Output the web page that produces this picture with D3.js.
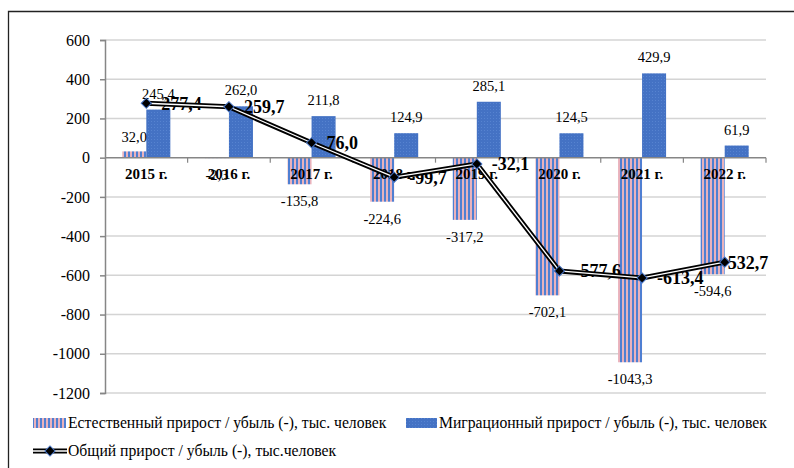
<!DOCTYPE html>
<html><head><meta charset="utf-8">
<script src="https://cdn.jsdelivr.net/npm/d3@7"></script>
<style>
html,body{margin:0;padding:0;background:#fff;}
svg{display:block;font-family:"Liberation Serif","Times New Roman",serif;}
</style></head>
<body>
<svg id="chart" width="794" height="468"></svg>
<script>
const years = ["2015 г.","2016 г.","2017 г.","2018 г.","2019 г.","2020 г.","2021 г.","2022 г."];
const natural = [32.0,-2.3,-135.8,-224.6,-317.2,-702.1,-1043.3,-594.6];
const migration = [245.4,262.0,211.8,124.9,285.1,124.5,429.9,61.9];
const total = [277.4,259.7,76.0,-99.7,-32.1,-577.6,-613.4,-532.7];
const yTicks = [600,400,200,0,-200,-400,-600,-800,-1000,-1200];
const seriesNames = ["Естественный прирост / убыль (-), тыс. человек","Миграционный прирост / убыль (-), тыс. человек","Общий прирост / убыль (-), тыс.человек"];

const fmt = v => v.toFixed(1).replace(".", ",");
const svg = d3.select("#chart");
const defs = svg.append("defs");
const pat = defs.append("pattern").attr("id","stripes").attr("patternUnits","userSpaceOnUse").attr("width",4).attr("height",4);
pat.append("rect").attr("width",4).attr("height",4).attr("fill","#e9b2bc");
pat.append("rect").attr("width",2).attr("height",4).attr("fill","#4f7fd2");
const pat2 = defs.append("pattern").attr("id","dots").attr("patternUnits","userSpaceOnUse").attr("width",3).attr("height",3);
pat2.append("rect").attr("width",3).attr("height",3).attr("fill","#4472c4");
pat2.append("rect").attr("x",1).attr("y",1).attr("width",1).attr("height",1).attr("fill","#5683d0");

// outer frame
svg.append("path").attr("d","M8.5,470V11.5H800").attr("fill","none").attr("stroke","#222").attr("stroke-width",1.3);

const x = d3.scaleBand().domain(years).range([105,766]).padding(0);
const y = d3.scaleLinear().domain([-1200,600]).range([393,40]);
const xs = d3.scaleBand().domain(["n","m"]).range([0,x.bandwidth()]).paddingInner(0).paddingOuter(0.72);
const y0 = y(0);

// gridlines
svg.append("g").selectAll("line").data(yTicks.filter(t=>t!==0)).join("line")
  .attr("x1",105).attr("x2",766).attr("y1",d=>y(d)).attr("y2",d=>y(d))
  .attr("stroke","#d4d4d4").attr("stroke-width",1.5);

// bars
svg.append("g").selectAll("rect").data(natural).join("rect")
  .attr("x",(d,i)=>x(years[i])+xs("n")).attr("width",xs.bandwidth())
  .attr("y",d=>Math.min(y(d),y0)).attr("height",d=>Math.abs(y(d)-y0))
  .attr("fill","url(#stripes)");
svg.append("g").selectAll("rect").data(migration).join("rect")
  .attr("x",(d,i)=>x(years[i])+xs("m")).attr("width",xs.bandwidth())
  .attr("y",d=>Math.min(y(d),y0)).attr("height",d=>Math.abs(y(d)-y0))
  .attr("fill","url(#dots)");

// y axis
const ya = svg.append("g").attr("transform","translate(105,0)")
  .call(d3.axisLeft(y).tickValues(yTicks).tickSize(5).tickPadding(10).tickFormat(d=>d));
ya.select(".domain").attr("stroke","#868686").attr("stroke-width",1.5);
ya.selectAll(".tick line").attr("stroke","#868686").attr("stroke-width",1.5);
ya.selectAll(".tick text").attr("font-size",16).attr("font-family","Liberation Serif").attr("fill","#000");

// x axis (zero line)
svg.append("line").attr("x1",105).attr("x2",766).attr("y1",y0).attr("y2",y0).attr("stroke","#868686").attr("stroke-width",1.5);
svg.append("g").selectAll("line").data(years.slice(1).concat(["end"])).join("line")
  .attr("x1",d=>d==="end"?766:x(d)).attr("x2",d=>d==="end"?766:x(d))
  .attr("y1",y0).attr("y2",y0+5).attr("stroke","#868686").attr("stroke-width",1.2);
svg.append("g").selectAll("text").data(years).join("text")
  .attr("x",d=>x(d)+x.bandwidth()/2).attr("y",y0+21.5)
  .attr("text-anchor","middle").attr("font-size",15).attr("font-weight","bold").text(d=>d);

// bar labels
svg.append("g").selectAll("text").data(natural).join("text")
  .attr("x",(d,i)=>x(years[i])+xs("n")+xs.bandwidth()/2)
  .attr("y",d=>d>=0? y(d)-9 : y(d)+22)
  .attr("text-anchor","middle").attr("font-size",14.5).text(d=>fmt(d));
svg.append("g").selectAll("text").data(migration).join("text")
  .attr("x",(d,i)=>x(years[i])+xs("m")+xs.bandwidth()/2)
  .attr("y",d=>d>=0? y(d)-11 : y(d)+22)
  .attr("text-anchor","middle").attr("font-size",14.5).text(d=>fmt(d));

// total labels
const cx = i => x(years[i]) + x.bandwidth()/2;
svg.append("g").selectAll("text").data(total).join("text")
  .attr("x",(d,i)=>cx(i) + (i===total.length-1 ? -3 : 15))
  .attr("y",d=>y(d)+6.5)
  .attr("font-size",18).attr("font-weight","bold").text(d=>fmt(d));

// line
const line = d3.line().x((d,i)=>cx(i)).y(d=>y(d));
svg.append("path").datum(total).attr("d",line).attr("fill","none").attr("stroke","#000").attr("stroke-width",5).attr("stroke-linejoin","round");
svg.append("path").datum(total).attr("d",line).attr("fill","none").attr("stroke","#fff").attr("stroke-width",1.3).attr("stroke-linejoin","round");
svg.append("g").selectAll("path").data(total).join("path")
  .attr("transform",(d,i)=>`translate(${cx(i)},${y(d)}) rotate(45)`)
  .attr("d",d3.symbol(d3.symbolSquare,52))
  .attr("fill","#000").attr("stroke","#4472c4").attr("stroke-width",1);

// legend
const lg = svg.append("g").attr("font-size",15.7);
lg.append("rect").attr("x",33).attr("y",418).attr("width",33).attr("height",10).attr("fill","url(#stripes)");
lg.append("text").attr("x",68).attr("y",428).text(seriesNames[0]);
lg.append("rect").attr("x",406).attr("y",418).attr("width",31).attr("height",10).attr("fill","url(#dots)");
lg.append("text").attr("x",439).attr("y",428).text(seriesNames[1]);
lg.append("line").attr("x1",33).attr("x2",67).attr("y1",451).attr("y2",451).attr("stroke","#000").attr("stroke-width",5);
lg.append("line").attr("x1",33).attr("x2",67).attr("y1",451).attr("y2",451).attr("stroke","#fff").attr("stroke-width",1.3);
lg.append("path").attr("transform","translate(50,451) rotate(45)").attr("d",d3.symbol(d3.symbolSquare,52)).attr("fill","#000").attr("stroke","#4472c4");
lg.append("text").attr("x",68).attr("y",456).text(seriesNames[2]);
</script>
</body></html>
